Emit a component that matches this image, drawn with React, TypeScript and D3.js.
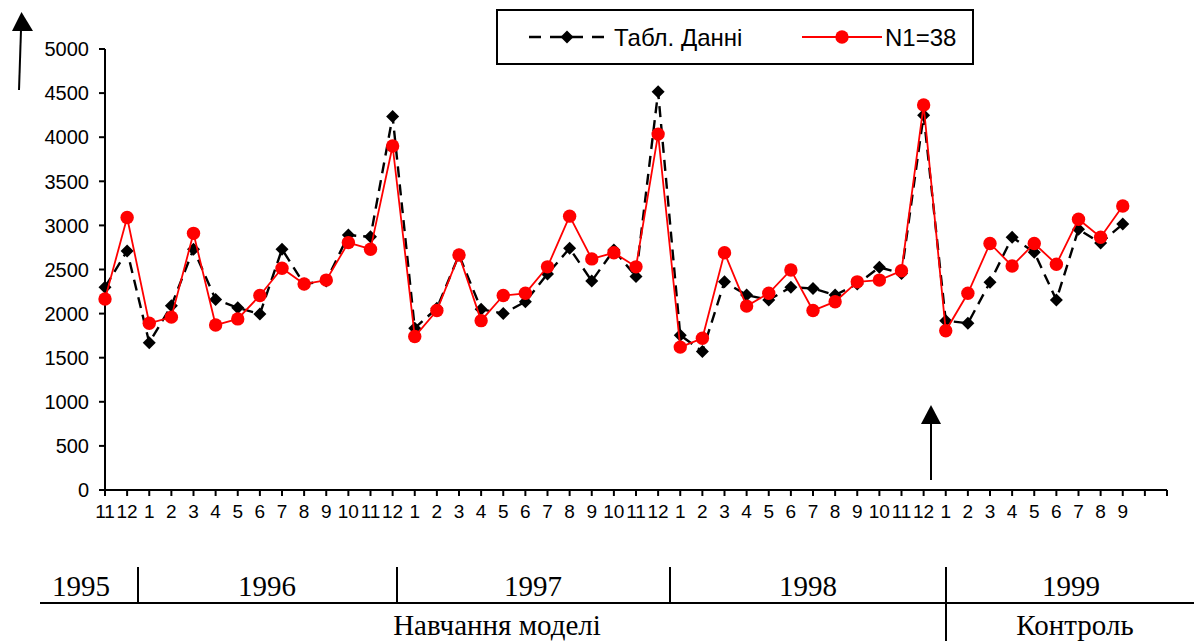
import React from "react";
import * as d3 from "d3";

const monthLabels = [
  "11", "12",
  "1", "2", "3", "4", "5", "6", "7", "8", "9", "10", "11", "12",
  "1", "2", "3", "4", "5", "6", "7", "8", "9", "10", "11", "12",
  "1", "2", "3", "4", "5", "6", "7", "8", "9", "10", "11", "12",
  "1", "2", "3", "4", "5", "6", "7", "8", "9",
];

const tablData = [
  2300, 2710, 1670, 2090, 2730, 2160, 2065, 1995, 2730, 2335, 2370, 2890, 2870, 4235,
  1835, 2060, 2665, 2050, 2000, 2135, 2450, 2740, 2370, 2720, 2420, 4515,
  1755, 1570, 2360, 2210, 2155, 2300, 2285, 2210, 2335, 2525, 2455, 4250,
  1920, 1890, 2355, 2865, 2695, 2155, 2955, 2800, 3015,
];

const n1Data = [
  2165, 3090, 1890, 1960, 2910, 1870, 1940, 2205, 2515, 2335, 2380, 2805, 2730, 3900,
  1740, 2035, 2665, 1920, 2205, 2230, 2530, 3105, 2620, 2690, 2530, 4035,
  1620, 1720, 2690, 2085, 2230, 2495, 2035, 2135, 2360, 2380, 2485, 4365,
  1805, 2230, 2795, 2540, 2795, 2560, 3070, 2865, 3220,
];

const yTicks = [0, 500, 1000, 1500, 2000, 2500, 3000, 3500, 4000, 4500, 5000];

const years = ["1995", "1996", "1997", "1998", "1999"];
const seriesNames = ["Табл. Данні", "N1=38"];
const phaseNames = ["Навчання моделі", "Контроль"];

const W = 1194;
const H = 641;
const sans = "'Liberation Sans', Arial, sans-serif";
const serif = "'Liberation Serif', 'Times New Roman', serif";

export default function App() {
  const x = d3.scaleLinear().domain([0, 48]).range([105, 1167]);
  const y = d3.scaleLinear().domain([0, 5000]).range([490, 49]);

  const line = d3
    .line<number>()
    .x((_, i) => x(i))
    .y((d) => y(d));

  const diamond = (cx: number, cy: number, r: number) =>
    `M${cx},${cy - r}L${cx + r},${cy}L${cx},${cy + r}L${cx - r},${cy}Z`;

  const tickIdx = d3.range(49);

  // bottom table layout
  const yearCenters = [81, 267, 533, 808, 1071];
  const separators = [138, 397, 670, 946];

  return (
    <svg
      width={W}
      height={H}
      style={{ position: "absolute", left: 0, top: 0, background: "#fff" }}
    >
      <rect x={0} y={0} width={W} height={H} fill="#fff" />

      {/* Y axis */}
      <line x1={105} x2={105} y1={y(5000)} y2={y(0)} stroke="#000" strokeWidth={2} />
      {yTicks.map((t) => (
        <g key={t}>
          <line x1={99} x2={105} y1={y(t)} y2={y(t)} stroke="#000" strokeWidth={2} />
          <text
            x={89}
            y={y(t)}
            dy="0.36em"
            textAnchor="end"
            fontFamily={sans}
            fontSize={20}
            fill="#000"
          >
            {t}
          </text>
        </g>
      ))}

      {/* X axis */}
      <line x1={x(0)} x2={x(48)} y1={490} y2={490} stroke="#000" strokeWidth={2} />
      {tickIdx.map((i) => (
        <line key={i} x1={x(i)} x2={x(i)} y1={490} y2={496} stroke="#000" strokeWidth={2} />
      ))}
      {monthLabels.map((m, i) => (
        <text
          key={i}
          x={x(i)}
          y={518}
          textAnchor="middle"
          fontFamily={sans}
          fontSize={19}
          fill="#000"
        >
          {m}
        </text>
      ))}

      {/* Black dashed series */}
      <path
        d={line(tablData) || ""}
        fill="none"
        stroke="#000"
        strokeWidth={2.4}
        strokeDasharray="11,7"
      />
      {tablData.map((v, i) => (
        <path key={i} d={diamond(x(i), y(v), 6.5)} fill="#000" />
      ))}

      {/* Red series */}
      <path d={line(n1Data) || ""} fill="none" stroke="#ff0000" strokeWidth={1.8} />
      {n1Data.map((v, i) => (
        <circle key={i} cx={x(i)} cy={y(v)} r={6.7} fill="#ff0000" />
      ))}

      {/* Legend */}
      <rect x={497} y={10} width={476} height={54} fill="#fff" stroke="#000" strokeWidth={2} />
      <line x1={529} x2={612} y1={37} y2={37} stroke="#000" strokeWidth={2.4} strokeDasharray="12,9" />
      <path d={diamond(567, 37, 6.5)} fill="#000" />
      <text x={614} y={37} dy="0.36em" fontFamily={sans} fontSize={24} fill="#000">
        {seriesNames[0]}
      </text>
      <line x1={802} x2={882} y1={37} y2={37} stroke="#ff0000" strokeWidth={1.8} />
      <circle cx={842} cy={37} r={6.7} fill="#ff0000" />
      <text x={885} y={37} dy="0.36em" fontFamily={sans} fontSize={24} fill="#000">
        {seriesNames[1]}
      </text>

      {/* Top-left arrow */}
      <line x1={19} x2={21} y1={90} y2={30} stroke="#000" strokeWidth={2} />
      <path d="M12,31L33,31L21.5,12Z" fill="#000" />

      {/* Arrow at 12/1998 */}
      <line x1={931} x2={931} y1={480} y2={422} stroke="#000" strokeWidth={2} />
      <path d="M921,424L941,424L931,405Z" fill="#000" />

      {/* Bottom table */}
      <line x1={40} x2={W} y1={603} y2={603} stroke="#000" strokeWidth={2} />
      {separators.map((sx, i) => (
        <line
          key={i}
          x1={sx}
          x2={sx}
          y1={567}
          y2={i === 3 ? H : 603}
          stroke="#000"
          strokeWidth={2}
        />
      ))}
      {years.map((yr, i) => (
        <text
          key={yr}
          x={yearCenters[i]}
          y={596}
          textAnchor="middle"
          fontFamily={serif}
          fontSize={29}
          fill="#000"
        >
          {yr}
        </text>
      ))}
      <text x={497} y={635} textAnchor="middle" fontFamily={serif} fontSize={29} fill="#000">
        {phaseNames[0]}
      </text>
      <text x={1075} y={635} textAnchor="middle" fontFamily={serif} fontSize={29} fill="#000">
        {phaseNames[1]}
      </text>
    </svg>
  );
}
